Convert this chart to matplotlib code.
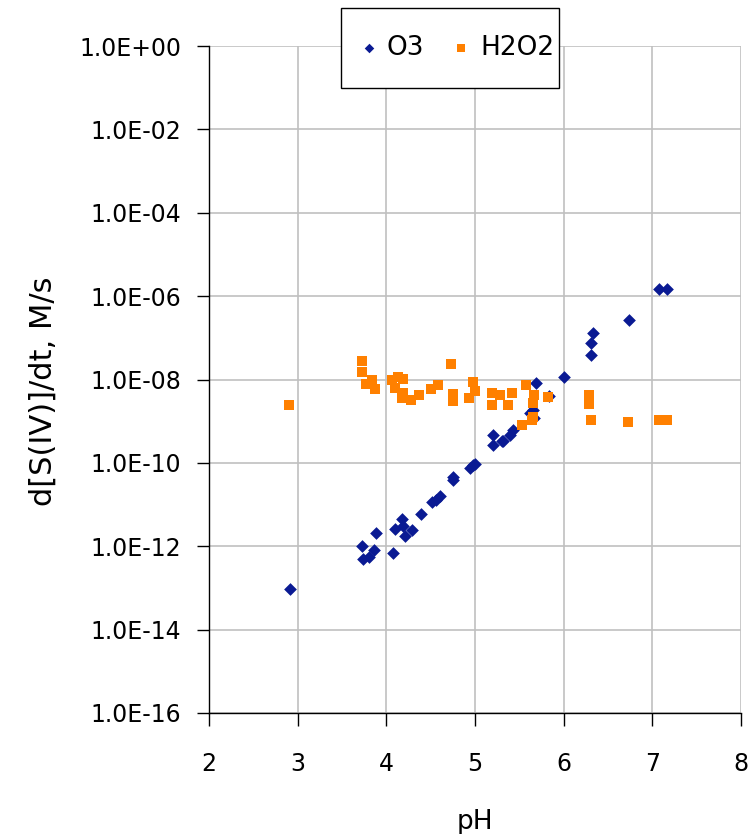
import matplotlib.pyplot as plt
from matplotlib.patches import Rectangle
from matplotlib.ticker import FixedLocator, FuncFormatter, NullLocator
import numpy as np

# O3 oxidation rate vs pH
o3_ph = [2.91, 3.73, 3.74, 3.81, 3.86, 3.88, 4.08, 4.10, 4.18, 4.19, 4.21, 4.29,
         4.39, 4.51, 4.56, 4.60, 4.75, 4.75, 4.94, 4.98, 5.00, 5.20, 5.20, 5.30,
         5.32, 5.39, 5.43, 5.62, 5.65, 5.67, 5.69, 5.84, 6.00, 6.31, 6.31, 6.33,
         6.74, 7.08, 7.17]
o3_log = [-13.02, -11.99, -12.31, -12.26, -12.10, -11.68, -12.15, -11.59, -11.35,
          -11.52, -11.75, -11.60, -11.22, -10.95, -10.90, -10.80, -10.40, -10.34,
          -10.12, -10.04, -10.02, -9.32, -9.56, -9.48, -9.48, -9.32, -9.20, -8.80,
          -8.72, -8.92, -8.08, -8.40, -7.94, -7.42, -7.12, -6.88, -6.57, -5.82, -5.82]

# H2O2 oxidation rate vs pH
h2o2_ph = [2.90, 3.72, 3.72, 3.77, 3.84, 3.87, 4.06, 4.13, 4.19, 4.10, 4.19, 4.18,
           4.28, 4.37, 4.50, 4.58, 4.73, 4.75, 4.75, 4.98, 5.00, 4.93, 5.19, 5.19,
           5.28, 5.37, 5.42, 5.58, 5.67, 5.65, 5.53, 5.64, 5.65, 5.82, 6.29, 6.29,
           6.31, 6.73, 7.07, 7.16]
h2o2_log = [-8.62, -7.56, -7.82, -8.10, -8.02, -8.22, -8.00, -7.94, -7.98, -8.20,
            -8.32, -8.44, -8.48, -8.38, -8.22, -8.14, -7.62, -8.34, -8.52, -8.06,
            -8.28, -8.44, -8.32, -8.60, -8.36, -8.60, -8.32, -8.12, -8.38, -8.56,
            -9.08, -8.96, -8.89, -8.42, -8.36, -8.58, -8.98, -9.03, -8.98, -8.98]

o3_rate = 10.0 ** np.array(o3_log)
h2o2_rate = 10.0 ** np.array(h2o2_log)

plt.rcParams['font.family'] = ['DejaVu Sans']

fig = plt.figure(figsize=(7.55, 8.34), dpi=100)
ax = fig.add_axes([209 / 755, 1 - 713 / 834, (741 - 209) / 755, (713 - 46) / 834])

ax.scatter(o3_ph, o3_rate, marker='D', s=42, color='#0A1A93', linewidths=0,
           label='O3', zorder=3)
ax.scatter(h2o2_ph, h2o2_rate, marker='s', s=55, color='#FF8000', linewidths=0,
           label='H2O2', zorder=3)

ax.set_yscale('log')
ax.set_xlim(2, 8)
ax.set_ylim(1e-16, 1)
ax.set_xticks(range(2, 9))
ax.yaxis.set_major_locator(FixedLocator([10.0 ** e for e in range(-16, 1, 2)]))
ax.yaxis.set_minor_locator(NullLocator())
ax.yaxis.set_major_formatter(FuncFormatter(
    lambda v, p: '1.0E%+03d' % int(round(np.log10(v))) if v >= 1 else
    '1.0E-%02d' % int(round(-np.log10(v)))))

ax.grid(True, color='#c0c0c0', linewidth=1.2)
ax.set_axisbelow(True)
for side in ['top', 'right']:
    ax.spines[side].set_visible(False)
ax.spines['left'].set_linewidth(1.0)
ax.spines['bottom'].set_linewidth(1.0)
ax.tick_params(axis='both', direction='out', length=9, width=1, labelsize=17,
               colors='black')
ax.tick_params(axis='y', pad=11)
ax.tick_params(axis='x', pad=19)

ax.set_xlabel('pH', fontsize=19, labelpad=24)
ax.set_ylabel('d[S(IV)]/dt, M/s', fontsize=22)
ax.yaxis.set_label_coords(-0.284, 0.483)

# legend box sits across the top edge of the plot
fig.add_artist(Rectangle((341 / 755, 1 - 88 / 834), 218 / 755, 80 / 834,
                         transform=fig.transFigure, facecolor='white',
                         edgecolor='black', linewidth=1.0, zorder=4))
leg = fig.legend(loc='center', bbox_to_anchor=(456 / 755, 1 - 48 / 834), ncol=2,
                 fontsize=19, frameon=False, handlelength=0.8,
                 handletextpad=0.3, columnspacing=1.0, markerscale=0.75)

fig.savefig('out.png', dpi=100)
